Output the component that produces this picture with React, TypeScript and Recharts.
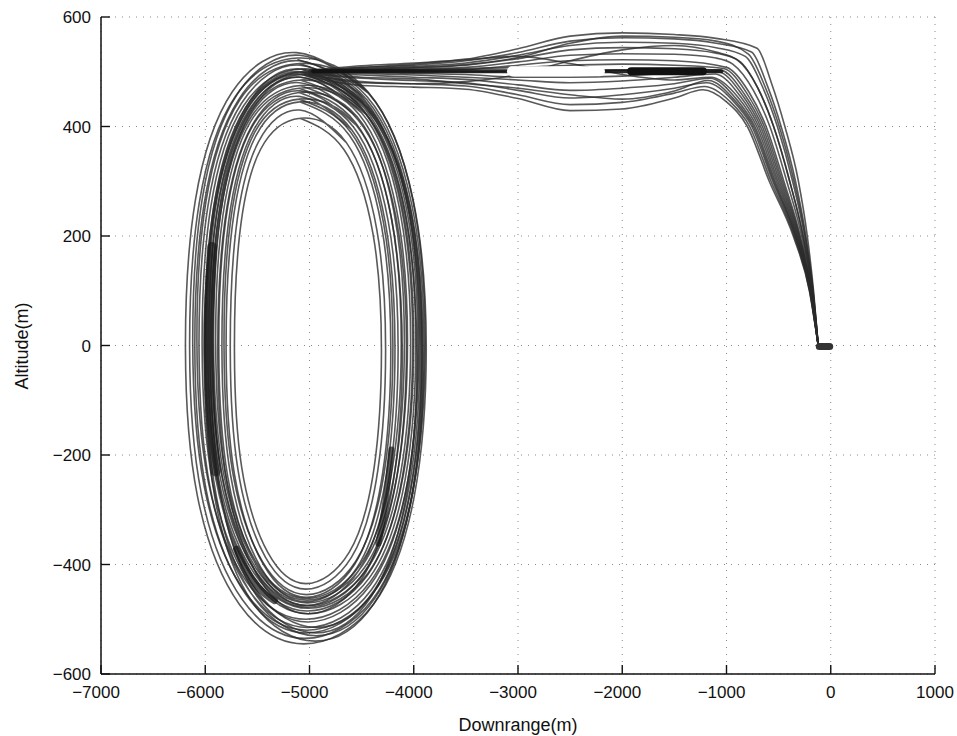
import React from "react";
import { ScatterChart, Scatter, XAxis, YAxis, CartesianGrid, Label } from "recharts";

type Pt = [number, number];

const xTicks = [-7000, -6000, -5000, -4000, -3000, -2000, -1000, 0, 1000];
const yTicks = [-600, -400, -200, 0, 200, 400, 600];

// holding loops, two turns each
const loop1: Pt[] = [
  [-4438, 463],
  [-5125, 535], [-5742, 463], [-6095, 265], [-6190, -5], [-6075, -275], [-5672, -473], [-5055, -545], [-4388, -473], [-3995, -275], [-3880, -5], [-4005, 265], [-4438, 463],
  [-5115, 525], [-5715, 454], [-6058, 260], [-6150, -5], [-6038, -270], [-5645, -464], [-5045, -535], [-4395, -464], [-4012, -270], [-3900, -5], [-4022, 260], [-4445, 454],
  [-5110, 522],
];
const loop2: Pt[] = [
  [-4450, 449],
  [-5100, 520], [-5680, 449], [-6011, 258], [-6100, -3], [-5991, -264], [-5610, -455], [-5030, -525], [-4400, -455], [-4029, -264], [-3920, -3], [-4039, 258], [-4450, 449],
  [-5085, 505], [-5635, 437], [-5947, 253], [-6030, 0], [-5927, -253], [-5565, -437], [-5015, -505], [-4415, -437], [-4063, -253], [-3960, 0], [-4073, 253], [-4465, 437],
  [-5085, 505],
];
const loop3: Pt[] = [
  [-4456, 442],
  [-5090, 512], [-5654, 442], [-5974, 255], [-6060, -2], [-5954, -259], [-5584, -446], [-5020, -515], [-4406, -446], [-4046, -259], [-3940, -2], [-4056, 255], [-4456, 442],
  [-5080, 500], [-5600, 431], [-5916, 243], [-6000, -15], [-5896, -273], [-5530, -461], [-4935, -530], [-4370, -461], [-4014, -273], [-3910, -15], [-4024, 243], [-4430, 431],
  [-5080, 500],
];
const loop4: Pt[] = [
  [-4474, 434],
  [-5080, 500], [-5616, 434], [-5919, 253], [-6000, 5], [-5899, -243], [-5546, -424], [-5010, -490], [-4424, -424], [-4081, -243], [-3980, 5], [-4091, 253], [-4474, 434],
  [-5075, 495], [-5581, 427], [-5888, 243], [-5970, -10], [-5868, -263], [-5511, -447], [-4930, -515], [-4379, -447], [-4032, -263], [-3930, -10], [-4042, 243], [-4429, 427],
  [-5075, 495],
];
const loop5: Pt[] = [
  [-4486, 431],
  [-5080, 495], [-5604, 431], [-5901, 252], [-5980, 8], [-5881, -236], [-5534, -415], [-5010, -480], [-4436, -415], [-4099, -236], [-4000, 8], [-4109, 252], [-4486, 431],
  [-5090, 485], [-5586, 422], [-5866, 247], [-5940, 8], [-5846, -231], [-5516, -406], [-5020, -470], [-4474, -406], [-4154, -231], [-4060, 8], [-4164, 247], [-4524, 422],
  [-5090, 485],
];
const loop6: Pt[] = [
  [-4505, 426],
  [-5085, 490], [-5595, 426], [-5884, 250], [-5960, 8], [-5864, -234], [-5525, -410], [-5015, -475], [-4455, -410], [-4126, -234], [-4030, 8], [-4136, 250], [-4505, 426],
  [-5100, 470], [-5568, 408], [-5831, 237], [-5900, 4], [-5811, -229], [-5498, -400], [-5030, -462], [-4512, -400], [-4209, -229], [-4120, 4], [-4219, 237], [-4562, 408],
  [-5100, 470],
];
const loop7: Pt[] = [
  [-4543, 418],
  [-5095, 480], [-5577, 418], [-5849, 245], [-5920, 8], [-5829, -229], [-5507, -402], [-5025, -465], [-4493, -402], [-4181, -229], [-4090, 8], [-4191, 245], [-4543, 418],
  [-5100, 462], [-5552, 399], [-5804, 228], [-5870, -6], [-5784, -240], [-5482, -411], [-5030, -475], [-4528, -411], [-4236, -240], [-4150, -6], [-4246, 228], [-4578, 399],
  [-5100, 462],
];
const loop8: Pt[] = [
  [-4595, 394],
  [-5100, 455], [-5535, 394], [-5777, 225], [-5840, -6], [-5757, -237], [-5465, -406], [-5030, -468], [-4545, -406], [-4263, -237], [-4180, -6], [-4273, 225], [-4595, 394],
  [-5095, 445], [-5512, 384], [-5741, 218], [-5800, -8], [-5721, -234], [-5442, -400], [-5030, -460], [-4568, -400], [-4299, -234], [-4220, -8], [-4309, 218], [-4618, 384],
  [-5095, 445],
];
const loop9: Pt[] = [
  [-4648, 371],
  [-5095, 430], [-5492, 371], [-5706, 211], [-5760, -8], [-5686, -227], [-5422, -387], [-5035, -445], [-4598, -387], [-4344, -227], [-4270, -8], [-4354, 211], [-4648, 371],
  [-5090, 415], [-5470, 358], [-5670, 203], [-5720, -10], [-5650, -223], [-5400, -378], [-5035, -435], [-4620, -378], [-4380, -223], [-4310, -10], [-4390, 203], [-4670, 358],
  [-5090, 415],
];
const loop10: Pt[] = [
  [-4431, 460],
  [-5095, 530], [-5689, 460], [-6029, 268], [-6120, 5], [-6009, -258], [-5619, -450], [-5025, -520], [-4381, -450], [-4001, -258], [-3890, 5], [-4011, 268], [-4431, 460],
  [-5105, 515], [-5671, 448], [-5994, 262], [-6080, 8], [-5974, -246], [-5601, -432], [-5035, -500], [-4419, -432], [-4056, -246], [-3950, 8], [-4066, 262], [-4469, 448],
  [-5105, 515],
];
const loop11: Pt[] = [
  [-4440, 435],
  [-5085, 505], [-5610, 435], [-5926, 244], [-6010, -18], [-5906, -280], [-5540, -471], [-4945, -540], [-4380, -471], [-4024, -280], [-3920, -18], [-4034, 244], [-4440, 435],
  [-5090, 498], [-5614, 432], [-5911, 252], [-5990, 6], [-5891, -240], [-5544, -420], [-5020, -485], [-4446, -420], [-4109, -240], [-4010, 6], [-4119, 252], [-4496, 432],
  [-5090, 498],
];
const loop12: Pt[] = [
  [-4456, 422],
  [-5080, 490], [-5574, 422], [-5871, 236], [-5950, -18], [-5851, -272], [-5504, -458], [-4940, -525], [-4406, -458], [-4069, -272], [-3970, -18], [-4079, 236], [-4456, 422],
  [-5090, 475], [-5581, 411], [-5857, 237], [-5930, -2], [-5837, -241], [-5511, -415], [-5020, -478], [-4479, -415], [-4163, -241], [-4070, -2], [-4173, 237], [-4529, 411],
  [-5090, 475],
];
const loop13: Pt[] = [
  [-4549, 402],
  [-5085, 465], [-5551, 402], [-5812, 227], [-5880, -12], [-5792, -251], [-5481, -426], [-5015, -490], [-4499, -426], [-4198, -251], [-4110, -12], [-4208, 227], [-4549, 402],
  [-5100, 450], [-5524, 390], [-5759, 225], [-5820, -2], [-5739, -229], [-5454, -394], [-5030, -455], [-4556, -394], [-4281, -229], [-4200, -2], [-4291, 225], [-4606, 390],
  [-5100, 450],
];

// approach legs, from the loop top out to the landing point
const approach1: Pt[] = [[-5000, 503], [-4500, 511], [-4000, 516], [-3500, 523], [-3000, 542], [-2500, 565], [-2000, 571], [-1500, 568], [-1100, 561], [-707, 543], [-570, 480], [-440, 400], [-310, 300], [-225, 200], [-165, 100], [-120, 0]];
const approach2: Pt[] = [[-5000, 502], [-4500, 508], [-4000, 512], [-3500, 520], [-3000, 535], [-2500, 556], [-2000, 562], [-1500, 560], [-1100, 552], [-760, 536], [-613, 477], [-476, 400], [-338, 300], [-239, 200], [-169, 100], [-120, 0]];
const approach3: Pt[] = [[-5000, 501], [-4500, 506], [-4000, 510], [-3500, 516], [-3000, 530], [-2500, 548], [-2000, 554], [-1500, 552], [-1100, 544], [-820, 528], [-656, 473], [-512, 400], [-366, 300], [-252, 200], [-173, 100], [-120, 0]];
const approach4: Pt[] = [[-5000, 501], [-4500, 504], [-4000, 507], [-3500, 512], [-3000, 524], [-2500, 540], [-2000, 544], [-1500, 542], [-1100, 534], [-880, 520], [-699, 470], [-548, 400], [-394, 300], [-266, 200], [-177, 100], [-120, 0]];
const approach5: Pt[] = [[-5000, 500], [-4500, 503], [-4000, 505], [-3500, 508], [-3000, 518], [-2500, 530], [-2000, 533], [-1500, 532], [-1100, 525], [-940, 514], [-742, 466], [-584, 400], [-422, 300], [-279, 200], [-181, 100], [-120, 0]];
const approach6: Pt[] = [[-5000, 500], [-4500, 501], [-4000, 502], [-3500, 504], [-3000, 512], [-2500, 520], [-2000, 522], [-1500, 520], [-1000, 508], [-785, 463], [-620, 400], [-450, 300], [-293, 200], [-185, 100], [-120, 0]];
const approach7: Pt[] = [[-5000, 500], [-4500, 500], [-4000, 500], [-3500, 500], [-3000, 501], [-2500, 502], [-2000, 503], [-1500, 505], [-1060, 503], [-828, 459], [-656, 400], [-478, 300], [-306, 200], [-189, 100], [-120, 0]];
const approach8: Pt[] = [[-5000, 499], [-4500, 497], [-4000, 494], [-3500, 490], [-3000, 485], [-2500, 480], [-2000, 483], [-1500, 490], [-1110, 496], [-871, 456], [-692, 400], [-506, 300], [-320, 200], [-193, 100], [-120, 0]];
const approach9: Pt[] = [[-5000, 498], [-4500, 494], [-4000, 490], [-3500, 486], [-3000, 476], [-2500, 466], [-2000, 470], [-1500, 478], [-1160, 488], [-914, 452], [-728, 400], [-534, 300], [-333, 200], [-197, 100], [-120, 0]];
const approach10: Pt[] = [[-5000, 496], [-4500, 488], [-4000, 484], [-3500, 480], [-3000, 466], [-2500, 452], [-2000, 458], [-1500, 470], [-1190, 480], [-948, 449], [-757, 400], [-556, 300], [-344, 200], [-200, 100], [-120, 0]];
const approach11: Pt[] = [[-5000, 494], [-4500, 482], [-4000, 478], [-3500, 474], [-3000, 458], [-2500, 440], [-2000, 444], [-1500, 461], [-1210, 473], [-974, 447], [-778, 400], [-573, 300], [-352, 200], [-203, 100], [-120, 0]];
const approach12: Pt[] = [[-5000, 492], [-4500, 475], [-4000, 472], [-3500, 468], [-3000, 451], [-2500, 429], [-2000, 432], [-1500, 452], [-1226, 467], [-1000, 445], [-800, 400], [-590, 300], [-360, 200], [-205, 100], [-120, 0]];
const approach13: Pt[] = [[-5000, 496], [-4500, 480], [-4000, 478], [-3500, 482], [-3000, 495], [-2500, 520], [-2000, 540], [-1500, 548], [-1100, 536], [-900, 522], [-699, 470], [-548, 400], [-394, 300], [-266, 200], [-177, 100], [-120, 0]];
const approach14: Pt[] = [[-5000, 501], [-4500, 508], [-4000, 514], [-3500, 522], [-3000, 528], [-2500, 515], [-2000, 495], [-1500, 485], [-1150, 490], [-892, 454], [-710, 400], [-520, 300], [-326, 200], [-195, 100], [-120, 0]];
const approach15: Pt[] = [[-5000, 502], [-4500, 505], [-4000, 508], [-3500, 513], [-3000, 526], [-2500, 552], [-2000, 565], [-1500, 563], [-1100, 556], [-790, 532], [-635, 475], [-494, 400], [-352, 300], [-245, 200], [-171, 100], [-120, 0]];
const approach16: Pt[] = [[-5000, 497], [-4500, 490], [-4000, 487], [-3500, 478], [-3000, 470], [-2500, 458], [-2000, 450], [-1500, 465], [-1175, 484], [-931, 450], [-742, 400], [-545, 300], [-338, 200], [-198, 100], [-120, 0]];
const approach17: Pt[] = [[-5000, 499], [-4500, 499], [-4000, 497], [-3500, 495], [-3000, 490], [-2500, 490], [-2000, 492], [-1500, 498], [-1085, 500], [-850, 458], [-674, 400], [-492, 300], [-313, 200], [-191, 100], [-120, 0]];
const approach18: Pt[] = [[-5000, 500], [-4500, 502], [-4000, 504], [-3500, 506], [-3000, 508], [-2500, 512], [-2000, 514], [-1500, 512], [-1030, 506], [-806, 461], [-638, 400], [-464, 300], [-300, 200], [-187, 100], [-120, 0]];

// heavily overplotted stretches
const denseLeft: Pt[] = [[-5935, 180], [-5965, 60], [-5968, -10], [-5950, -120], [-5900, -230]];
const denseBottomLeft: Pt[] = [[-5700, -372], [-5560, -425], [-5420, -455], [-5335, -466]];
const denseRight: Pt[] = [[-4340, -362], [-4300, -320], [-4255, -260], [-4215, -190]];
const cruiseLine: Pt[] = [[-4965, 501], [-4000, 501], [-3000, 501], [-2000, 501], [-1050, 501]];
const cruiseGap: Pt[] = [[-3058, 501], [-2214, 501]];
const cruiseDark: Pt[] = [[-1915, 501], [-1226, 501]];
const touchdown: Pt[] = [[-110, -2], [-10, -2]];

const loops = [loop1, loop10, loop2, loop11, loop3, loop4, loop12, loop5, loop6, loop7, loop13, loop8, loop9];
const approaches = [
  approach1, approach2, approach15, approach3, approach4, approach5, approach6, approach18, approach7,
  approach17, approach8, approach9, approach16, approach10, approach11, approach12, approach13, approach14,
];

const FONT = "'Liberation Sans', Arial, Helvetica, sans-serif";
const toPts = (arr: Pt[]) => arr.map(([x, y]) => ({ x, y }));
const noDot = () => <g />;
const fmt = (v: number) => (v < 0 ? "\u2212" + Math.abs(v) : String(v));

function XTick(props: any) {
  const { x, y, payload } = props;
  const v = payload.value;
  return (
    <g>
      <line x1={x} x2={x} y1={y} y2={y - 9} stroke="#111" strokeWidth={1.4} />
      <text x={v < 0 ? x - 5 : x} y={y + 24} textAnchor="middle" fontSize={17} fontFamily={FONT} fill="#111">
        {fmt(v)}
      </text>
    </g>
  );
}

function YTick(props: any) {
  const { x, y, payload } = props;
  return (
    <g>
      <line x1={x} x2={x + 9} y1={y} y2={y} stroke="#111" strokeWidth={1.4} />
      <text x={x - 10} y={y} dy="0.36em" textAnchor="end" fontSize={17} fontFamily={FONT} fill="#111">
        {fmt(payload.value)}
      </text>
    </g>
  );
}

function trace(key: string, pts: Pt[], curve: string, stroke: string, width: number, opacity = 1) {
  return (
    <Scatter
      key={key}
      data={toPts(pts)}
      shape={noDot}
      line={{ stroke, strokeWidth: width, strokeOpacity: opacity, strokeLinecap: "round" }}
      lineType="joint"
      lineJointType={curve as any}
      isAnimationActive={false}
      legendType="none"
    />
  );
}

export default function App() {
  return (
    <div style={{ position: "absolute", left: 0, top: 0, background: "#fff" }}>
      <ScatterChart width={957} height={736} margin={{ top: 17, right: 22, bottom: 22, left: 0 }}>
        <CartesianGrid stroke="#8a8a8a" strokeDasharray="1 6" />
        <XAxis
          type="number"
          dataKey="x"
          domain={[-7000, 1000]}
          ticks={xTicks}
          interval={0}
          tick={<XTick />}
          tickSize={0}
          tickMargin={0}
          tickLine={false}
          axisLine={{ stroke: "#111", strokeWidth: 1.5 }}
          height={40}
        >
          <Label
            content={() => (
              <text x={518} y={731} textAnchor="middle" fontSize={18} fontFamily={FONT} fill="#111">
                Downrange(m)
              </text>
            )}
          />
        </XAxis>
        <YAxis
          type="number"
          dataKey="y"
          domain={[-600, 600]}
          ticks={yTicks}
          interval={0}
          tick={<YTick />}
          tickSize={0}
          tickMargin={0}
          tickLine={false}
          axisLine={{ stroke: "#111", strokeWidth: 1.5 }}
          width={101}
        >
          <Label
            content={() => (
              <text
                x={22}
                y={346}
                transform="rotate(-90 22 346)"
                textAnchor="middle"
                dominantBaseline="central"
                fontSize={18}
                fontFamily={FONT}
                fill="#111"
              >
                Altitude(m)
              </text>
            )}
          />
        </YAxis>
        {loops.map((l, i) => trace(`loop${i}`, l, "natural", "#2a2a2a", 1.6, 0.78))}
        {approaches.map((a, i) => trace(`app${i}`, a, "monotoneX", "#2a2a2a", 1.6, 0.78))}
        {trace("denseLeft", denseLeft, "natural", "#151515", 10, 0.6)}
        {trace("denseBottomLeft", denseBottomLeft, "natural", "#151515", 7, 0.7)}
        {trace("denseRight", denseRight, "natural", "#151515", 6, 0.7)}
        {trace("cruiseLine", cruiseLine, "linear", "#111", 4, 0.9)}
        {trace("cruiseGap", cruiseGap, "linear", "#fff", 10, 1)}
        {trace("cruiseDark", cruiseDark, "linear", "#111", 8, 1)}
        {trace("touchdown", touchdown, "linear", "#333", 7, 1)}
      </ScatterChart>
    </div>
  );
}
